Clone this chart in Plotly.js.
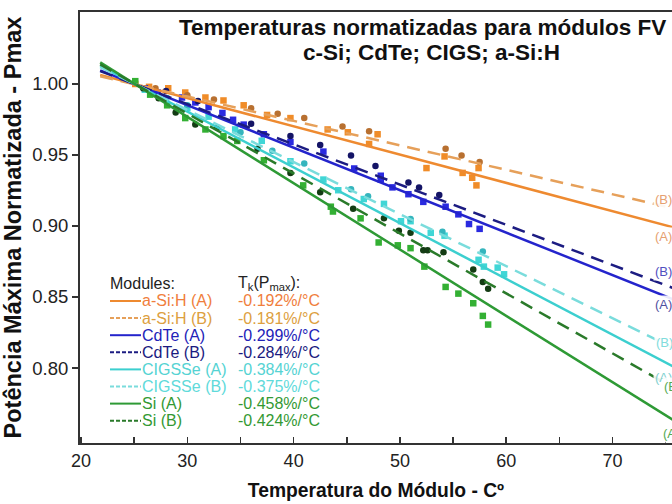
<!DOCTYPE html>
<html>
<head>
<meta charset="utf-8">
<script src="https://cdn.plot.ly/plotly-3.0.1.min.js"></script>
<style>html,body{margin:0;padding:0;background:#fff;}#chart{width:672px;height:504px;}</style>
</head>
<body>
<div id="chart"></div>
<script>
// ---------- data ----------
const seriesNames = ["a-Si:H (A)", "a-Si:H (B)", "CdTe (A)", "CdTe (B)", "CIGSSe (A)", "CIGSSe (B)", "Si (A)", "Si (B)"];
const tkLabels = ["-0.192%/°C", "-0.181%/°C", "-0.299%/°C", "-0.284%/°C", "-0.384%/°C", "-0.375%/°C", "-0.458%/°C", "-0.424%/°C"];
const titleLines = ["Temperaturas normatizadas para módulos FV", "c-Si; CdTe; CIGS; a-Si:H"];

// measured points
const T_aSiA = [25.1, 26.4, 28.2, 29.8, 31.7, 33.4, 35.3, 37.5, 39.7, 43.2, 45.1, 47.9, 47.1, 52.5, 54.2, 55.9, 57.4, 57.2, 56.8];
const P_aSiA = [1.000, 0.998, 0.997, 0.994, 0.9905, 0.9884, 0.985, 0.9782, 0.976, 0.968, 0.966, 0.9646, 0.9578, 0.9408, 0.949, 0.9374, 0.9408, 0.9286, 0.934];
const T_aSiB = [27.0, 30.0, 32.5, 36.0, 38.5, 41.0, 44.6, 47.1, 54.3, 55.8, 57.5];
const P_aSiB = [0.997, 0.992, 0.989, 0.983, 0.979, 0.976, 0.970, 0.9667, 0.9544, 0.9497, 0.945];

const T_CdTeA = [26.0, 27.2, 29.5, 30.75, 32.0, 33.3, 34.3, 35.3, 37.2, 39.7, 42.8, 45.7, 48.2, 48.2, 49.3, 50.8, 52.2, 54.3, 55.5, 56.5, 57.5];
const P_CdTeA = [0.997, 0.994, 0.9905, 0.987, 0.9837, 0.9796, 0.9748, 0.9714, 0.9646, 0.9592, 0.9524, 0.9405, 0.9354, 0.9327, 0.9272, 0.9224, 0.917, 0.9136, 0.9082, 0.9014, 0.898];
const T_CdTeB = [28.0, 31.0, 36.0, 39.7, 42.5, 45.4, 47.7, 50.8, 51.8, 53.7];
const P_CdTeB = [0.995, 0.988, 0.972, 0.9633, 0.957, 0.9497, 0.9422, 0.9306, 0.9272, 0.9218];

const T_CIGSA = [26.0, 28.0, 30.0, 32.0, 34.5, 37.0, 39.7, 42.8, 44.2, 46.6, 48.5, 50.1, 51.0, 52.9, 54.2, 57.4, 57.9, 59.2, 59.8];
const P_CIGSA = [0.996, 0.990, 0.983, 0.977, 0.968, 0.960, 0.9456, 0.9327, 0.9252, 0.919, 0.9156, 0.9034, 0.9034, 0.8952, 0.8932, 0.8762, 0.8714, 0.8707, 0.866];
const T_CIGSB = [30.0, 35.0, 38.0, 41.0, 45.4, 47.0, 51.0, 54.0, 57.8];
const P_CIGSB = [0.985, 0.966, 0.953, 0.944, 0.9259, 0.921, 0.905, 0.896, 0.882];

const T_SiA = [25.1, 26.5, 28.1, 29.8, 31.7, 33.4, 34.7, 37.2, 40.9, 43.5, 43.7, 46.3, 48.0, 49.8, 51.0, 52.3, 54.3, 55.5, 56.9, 57.8, 58.3];
const P_SiA = [1.002, 0.9925, 0.985, 0.976, 0.968, 0.9633, 0.9599, 0.9463, 0.9286, 0.9136, 0.9102, 0.9054, 0.8884, 0.8864, 0.8844, 0.8714, 0.8571, 0.8524, 0.8456, 0.8367, 0.8306];
const T_SiB = [25.85, 27.3, 28.9, 30.75, 32.8, 36.6, 39.7, 42.5, 45.6, 48.5, 49.9, 51.0, 52.2, 52.6, 54.1, 56.9, 57.8, 58.3];
const P_SiB = [0.997, 0.990, 0.980, 0.9714, 0.9694, 0.9544, 0.9374, 0.9238, 0.9122, 0.9054, 0.8966, 0.8952, 0.883, 0.883, 0.8816, 0.8694, 0.8605, 0.8558];

// fitted lines: end points
const fitT = [21.8, 76.0];
const fit_aSiA = [1.0064, 0.8985];
const fit_aSiB = [1.0054, 0.9120];
const fit_CdTeA = [1.0096, 0.8475];
const fit_CdTeB = [1.0091, 0.8555];
const fit_CIGSA = [1.0127, 0.8000];
const fit_CIGSB = [1.0119, 0.8130];
const fit_SiA = [1.0152, 0.7620];
const fit_SiB = [1.0138, 0.7850];

// end-of-line labels
const endLabelText = ["(B)", "(A)", "(B)", "(A)", "(B)", "(A)", "(B)", "(A)"];
const endLabelT = [73.8, 73.8, 73.8, 73.8, 73.9, 73.8, 74.7, 74.6];
const endLabelP = [0.9190, 0.8923, 0.8683, 0.8444, 0.8183, 0.7930, 0.7873, 0.7542];

const xTickVals = [20, 30, 40, 50, 60, 70];
const xTickText = ["20", "30", "40", "50", "60", "70"];
const yTickVals = [0.80, 0.85, 0.90, 0.95, 1.00];
const yTickText = ["0.80", "0.85", "0.90", "0.95", "1.00"];

// ---------- styles ----------
const FONT = "Liberation Sans, Arial, sans-serif";
const lineColors = ["#EE8A30", "#E6A05A", "#2424CC", "#1C1C82", "#3CCFCF", "#7ADCDC", "#2E9A35", "#2A7A2A"];
const markerColors = ["#F08C28", "#B87030", "#2A2AE0", "#141466", "#40D6D6", "#35B5BD", "#33B033", "#143C14"];
const textColors = ["#F07E3C", "#DDA040", "#2222B8", "#1A1A80", "#55D3D3", "#60DADA", "#339933", "#339933"];
const endLabelColors = ["#E6A070", "#E6A070", "#5050C0", "#5050A0", "#80DCDC", "#80D0D0", "#55AA55", "#55AA55"];

const ptsT = [T_aSiA, T_aSiB, T_CdTeA, T_CdTeB, T_CIGSA, T_CIGSB, T_SiA, T_SiB];
const ptsP = [P_aSiA, P_aSiB, P_CdTeA, P_CdTeB, P_CIGSA, P_CIGSB, P_SiA, P_SiB];
const fits = [fit_aSiA, fit_aSiB, fit_CdTeA, fit_CdTeB, fit_CIGSA, fit_CIGSB, fit_SiA, fit_SiB];

const traces = [];
for (let i = 0; i < 8; i++) {
  const isB = i % 2 === 1;
  traces.push({
    type: "scatter", mode: "markers", x: ptsT[i], y: ptsP[i], showlegend: false,
    marker: { symbol: isB ? "circle" : "square", size: 6.5, color: markerColors[i] }
  });
}
for (let i = 0; i < 8; i++) {
  const isB = i % 2 === 1;
  traces.push({
    type: "scatter", mode: "lines", x: fitT, y: fits[i], showlegend: false,
    line: { color: lineColors[i], width: 2.5, dash: isB ? "13px,8px" : "solid" }
  });
}

// legend (annotations + sample lines), positioned in figure pixels
const W = 672, H = 504, ML = 80, MT = 12, MB = 61, MR = 0;
const pw = W - ML - MR, ph = H - MT - MB;
const px = v => (v - ML) / pw;
const py = v => (H - MB - v) / ph;
const legTop = 301, legStep = 17.1, legFont = 16;
const annotations = [];
const shapes = [];
annotations.push({ xref: "paper", yref: "paper", x: px(108), y: py(283), xanchor: "left", yanchor: "middle", text: "Modules:", showarrow: false, font: { family: FONT, size: legFont, color: "#222" } });
annotations.push({ xref: "paper", yref: "paper", x: px(236), y: py(283), xanchor: "left", yanchor: "middle", text: "T<sub>k</sub>(P<sub>max</sub>):", showarrow: false, font: { family: FONT, size: legFont, color: "#222" } });
for (let i = 0; i < 8; i++) {
  const yy = legTop + i * legStep;
  shapes.push({ type: "line", xref: "paper", yref: "paper", x0: px(110), x1: px(141), y0: py(yy), y1: py(yy),
    line: { color: lineColors[i], width: 2, dash: i % 2 ? "4px,2px" : "solid" } });
  annotations.push({ xref: "paper", yref: "paper", x: px(140), y: py(yy), xanchor: "left", yanchor: "middle", text: seriesNames[i], showarrow: false, font: { family: FONT, size: legFont, color: textColors[i] } });
  annotations.push({ xref: "paper", yref: "paper", x: px(236), y: py(yy), xanchor: "left", yanchor: "middle", text: tkLabels[i], showarrow: false, font: { family: FONT, size: legFont, color: textColors[i] } });
}
for (let i = 0; i < 8; i++) {
  annotations.push({ xref: "x", yref: "y", x: endLabelT[i], y: endLabelP[i], text: endLabelText[i], showarrow: false, xanchor: "left", yanchor: "middle",
    bgcolor: "rgba(255,255,255,0.9)", font: { family: FONT, size: 13, color: endLabelColors[i] } });
}
// title lines
annotations.push({ xref: "paper", yref: "paper", x: px(422), y: py(27), xanchor: "center", yanchor: "middle", text: "<b>" + titleLines[0] + "</b>", showarrow: false, font: { family: FONT, size: 22.5, color: "#111" } });
annotations.push({ xref: "paper", yref: "paper", x: px(431), y: py(53), xanchor: "center", yanchor: "middle", text: "<b>" + titleLines[1] + "</b>", showarrow: false, font: { family: FONT, size: 22.5, color: "#111" } });

const layout = {
  width: W, height: H,
  margin: { l: ML, r: MR, t: MT, b: MB, pad: 0 },
  paper_bgcolor: "#fff", plot_bgcolor: "#fff",
  font: { family: FONT, color: "#222" },
  showlegend: false,
  xaxis: {
    range: [19.9, 75.6], tickmode: "array", tickvals: xTickVals, ticktext: xTickText,
    ticks: "inside", ticklen: 6, tickwidth: 1.5, tickcolor: "#333",
    minor: { dtick: 5, tick0: 20, ticks: "inside", ticklen: 6, tickwidth: 1.5, tickcolor: "#333", showgrid: false },
    showline: true, linecolor: "#333", linewidth: 2, mirror: true, showgrid: false, zeroline: false,
    tickfont: { size: 18, color: "#222" },
    title: { text: "<b>Temperatura do Módulo - Cº</b>", standoff: 14, font: { size: 19.3, color: "#111" } }
  },
  yaxis: {
    range: [0.7472, 1.0507], tickmode: "array", tickvals: yTickVals, ticktext: yTickText,
    ticks: "outside", ticklen: 6, tickwidth: 1.5, tickcolor: "#333",
    showline: true, linecolor: "#333", linewidth: 2, showgrid: false, zeroline: false,
    tickfont: { size: 18.5, color: "#222" },
    title: { text: "<b>Potência Máxima Normatizada - Pmax</b>", standoff: 6, font: { size: 23.5, color: "#111" } }
  },
  annotations: annotations,
  shapes: shapes
};

Plotly.newPlot("chart", traces, layout, { displayModeBar: false, staticPlot: true });
</script>
</body>
</html>
